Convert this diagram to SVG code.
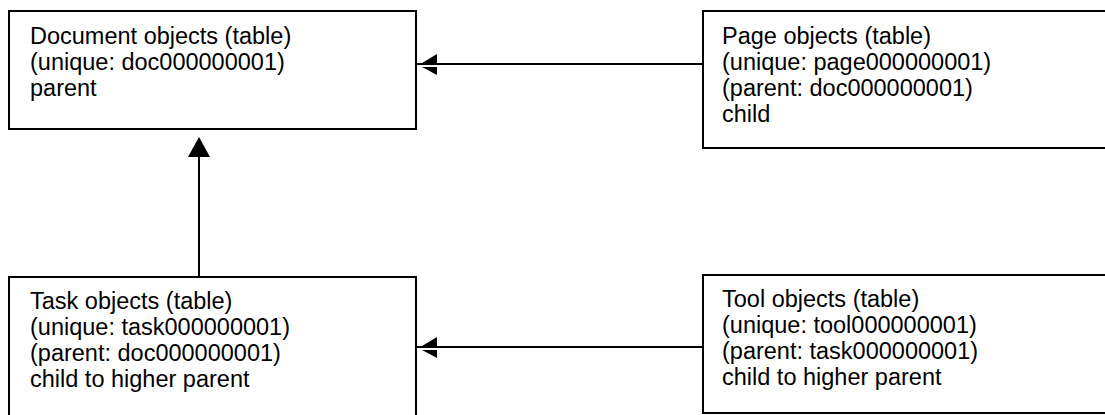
<svg xmlns="http://www.w3.org/2000/svg" width="1105" height="415" viewBox="0 0 1105 415">
  <style>
    .box { fill: #ffffff; stroke: #000000; stroke-width: 2; }
    .label { font-family: "Liberation Sans", Arial, sans-serif; font-size: 23.5px; fill: #000000; }
    .link { stroke: #000000; stroke-width: 2; fill: none; }
    .head { fill: #000000; stroke: none; }
  </style>
  <defs>
    <!-- split arrowhead pointing left: two halves separated by the connector line -->
    <path id="split-head-left" d="M0,-1 L15,-10 L15,-1 Z M0,3 L15,3 L15,11 Z"/>
    <!-- solid arrowhead pointing up, tip at origin -->
    <path id="head-up" d="M0,0 L11,20 L-11,20 Z"/>
  </defs>
  <rect width="1105" height="415" fill="#ffffff"/>

  <g id="connectors">
    <line class="link" x1="703" y1="64" x2="417" y2="64"/>
    <use href="#split-head-left" class="head" x="422" y="64"/>
    <line class="link" x1="703" y1="347" x2="417" y2="347"/>
    <use href="#split-head-left" class="head" x="422" y="347"/>
    <line class="link" x1="199" y1="276" x2="199" y2="152"/>
    <use href="#head-up" class="head" x="199" y="137"/>
  </g>

  <g id="document-objects">
    <rect class="box" x="9" y="11" width="407" height="118"/>
    <text class="label" x="30" y="44">Document objects (table)</text>
    <text class="label" x="30" y="70">(unique: doc000000001)</text>
    <text class="label" x="30" y="96">parent</text>
  </g>

  <g id="page-objects">
    <rect class="box" x="703" y="11" width="410" height="137"/>
    <text class="label" x="722" y="44">Page objects (table)</text>
    <text class="label" x="722" y="70">(unique: page000000001)</text>
    <text class="label" x="722" y="96">(parent: doc000000001)</text>
    <text class="label" x="722" y="122">child</text>
  </g>

  <g id="task-objects">
    <rect class="box" x="9" y="277" width="407" height="150"/>
    <text class="label" x="30" y="309">Task objects (table)</text>
    <text class="label" x="30" y="335">(unique: task000000001)</text>
    <text class="label" x="30" y="361">(parent: doc000000001)</text>
    <text class="label" x="30" y="387">child to higher parent</text>
  </g>

  <g id="tool-objects">
    <rect class="box" x="703" y="275" width="410" height="138"/>
    <text class="label" x="722" y="307">Tool objects (table)</text>
    <text class="label" x="722" y="333">(unique: tool000000001)</text>
    <text class="label" x="722" y="359">(parent: task000000001)</text>
    <text class="label" x="722" y="385">child to higher parent</text>
  </g>
</svg>
